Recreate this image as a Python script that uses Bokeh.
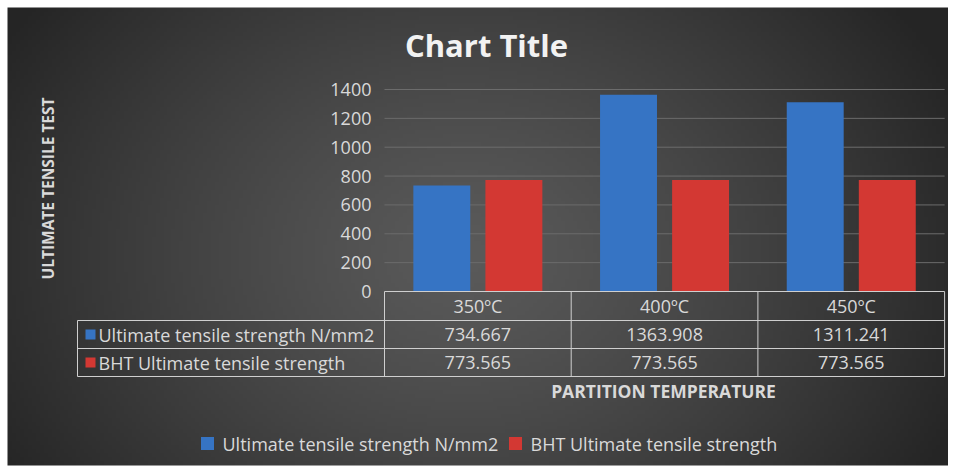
import numpy as np
from bokeh.plotting import figure
from bokeh.models import Range1d
from bokeh.core.properties import value
from bokeh.embed import file_html
from bokeh.resources import INLINE

# ---------------- data ----------------
categories = ["350ºC", "400ºC", "450ºC"]
series_names = ["Ultimate tensile strength  N/mm2", "BHT Ultimate tensile strength"]
legend_names = ["Ultimate tensile strength  N/mm2", "BHT Ultimate tensile strength"]
uts = [734.667, 1363.908, 1311.241]
bht_uts = [773.565, 773.565, 773.565]
y_ticks = [0, 200, 400, 600, 800, 1000, 1200, 1400]
chart_title = "Chart Title"
x_title = "PARTITION TEMPERATURE"
y_title = "ULTIMATE TENSILE TEST"

# ---------------- layout (screen px) ----------------
W, H = 948, 466
BG_L, BG_T, BG_R, BG_B = 7, 7, 948, 465
CAT_LEFT, CAT_W = 384.0, 186.7
Y0_PX, YTOP_PX = 291.0, 89.0
K = (Y0_PX - YTOP_PX) / y_ticks[-1]

def dx(px):
    return (px - CAT_LEFT) / CAT_W

def dy(py):
    return (Y0_PX - py) / K

FONT = value("Open Sans")
TXT = "#d9d9d9"
BLUE = "#3674c4"
RED = "#d33833"
LINE = "#cfcfcf"
FS = "18px"

p = figure(width=W, height=H,
           x_range=Range1d(dx(0), dx(W)),
           y_range=Range1d(dy(H), dy(0)),
           output_backend="svg", toolbar_location=None,
           x_axis_location=None, y_axis_location=None, min_border=0)
p.grid.visible = False
p.outline_line_color = None
p.background_fill_color = "white"
p.border_fill_color = "white"

# ---------------- background radial gradient ----------------
bw, bh = BG_R - BG_L, BG_B - BG_T
nx, ny = 236, 116
xs = np.linspace(BG_L, BG_R, nx)
ys = np.linspace(BG_B, BG_T, ny)  # bottom row first
X, Y = np.meshgrid(xs, ys)
cx, cy, rx, ry = 465.0, 255.0, 540.0, 430.0
t = np.clip(np.sqrt(((X - cx) / rx) ** 2 + ((Y - cy) / ry) ** 2), 0, 1) ** 1.25
inner, outer = 0x5a, 0x25
lum = (inner + (outer - inner) * t).astype(np.uint8)
img = np.empty((ny, nx), dtype=np.uint32)
view = img.view(dtype=np.uint8).reshape((ny, nx, 4))
view[..., 0] = lum
view[..., 1] = lum
view[..., 2] = lum
view[..., 3] = 255
p.image_rgba(image=[img], x=dx(BG_L), y=dy(BG_B),
             dw=dx(BG_R) - dx(BG_L), dh=dy(BG_T) - dy(BG_B))

# ---------------- gridlines ----------------
n = len(categories)
p.segment(x0=[0] * (len(y_ticks) - 1), x1=[n] * (len(y_ticks) - 1),
          y0=y_ticks[1:], y1=y_ticks[1:], line_color="#6c6c6c", line_width=1)

# ---------------- bars ----------------
OFFS, BW = 0.193, 0.305
p.vbar(x=[i + 0.5 - OFFS for i in range(n)], top=uts, width=BW, bottom=0,
       fill_color=BLUE, line_color=None)
p.vbar(x=[i + 0.5 + OFFS for i in range(n)], top=bht_uts, width=BW, bottom=0,
       fill_color=RED, line_color=None)

# ---------------- y tick labels ----------------
p.text(x=[dx(371)] * len(y_ticks), y=y_ticks, text=[str(v) for v in y_ticks],
       text_align="right", text_baseline="middle", text_font=FONT,
       text_font_size=FS, text_color=TXT)

# ---------------- data table ----------------
R0, R1, R2, R3 = 291, 320, 348, 376
LBL_LEFT = 77
p.segment(x0=[0, dx(LBL_LEFT), dx(LBL_LEFT), dx(LBL_LEFT)], x1=[n] * 4,
          y0=[dy(R0), dy(R1), dy(R2), dy(R3)], y1=[dy(R0), dy(R1), dy(R2), dy(R3)],
          line_color=LINE, line_width=1)
p.segment(x0=list(range(n + 1)), x1=list(range(n + 1)),
          y0=[dy(R0)] * (n + 1), y1=[dy(R3)] * (n + 1), line_color=LINE, line_width=1)
p.segment(x0=[dx(LBL_LEFT)], x1=[dx(LBL_LEFT)], y0=[dy(R1)], y1=[dy(R3)],
          line_color=LINE, line_width=1)

centers = [i + 0.5 for i in range(n)]
p.text(x=centers, y=[dy((R0 + R1) / 2)] * n, text=categories,
       text_align="center", text_baseline="middle", text_font=FONT,
       text_font_size=FS, text_color=TXT)
p.text(x=centers, y=[dy((R1 + R2) / 2)] * n, text=[f"{v:.3f}" for v in uts],
       text_align="center", text_baseline="middle", text_font=FONT,
       text_font_size=FS, text_color=TXT)
p.text(x=centers, y=[dy((R2 + R3) / 2)] * n, text=[f"{v:.3f}" for v in bht_uts],
       text_align="center", text_baseline="middle", text_font=FONT,
       text_font_size=FS, text_color=TXT)
row_y = [dy((R1 + R2) / 2), dy((R2 + R3) / 2)]
p.scatter(x=[dx(90)] * 2, y=row_y, marker="square", size=10,
          fill_color=[BLUE, RED], line_color=None)
p.text(x=[dx(98)] * 2, y=row_y, text=series_names, text_align="left",
       text_baseline="middle", text_font=FONT, text_font_size=FS, text_color=TXT)

# ---------------- titles ----------------
p.text(x=[dx(486)], y=[dy(44)], text=[chart_title], text_align="center",
       text_baseline="middle", text_font=FONT, text_font_style="bold",
       text_font_size="31px", text_color="#f2f2f2")
p.text(x=[dx(663)], y=[dy(390)], text=[x_title], text_align="center",
       text_baseline="middle", text_font=FONT, text_font_style="bold",
       text_font_size="17.5px", text_color=TXT)
p.text(x=[dx(47)], y=[dy(188)], text=[y_title], text_align="center",
       text_baseline="middle", angle=np.pi / 2, text_font=FONT, text_font_style="bold",
       text_font_size="15.5px", text_color=TXT)

# ---------------- legend ----------------
p.scatter(x=[dx(207), dx(515)], y=[dy(443)] * 2, marker="square", size=13,
          fill_color=[BLUE, RED], line_color=None)
p.text(x=[dx(222), dx(530)], y=[dy(443)] * 2, text=legend_names, text_align="left",
       text_baseline="middle", text_font=FONT, text_font_size=FS, text_color=TXT)

open("out.html", "w").write(file_html(p, INLINE))
